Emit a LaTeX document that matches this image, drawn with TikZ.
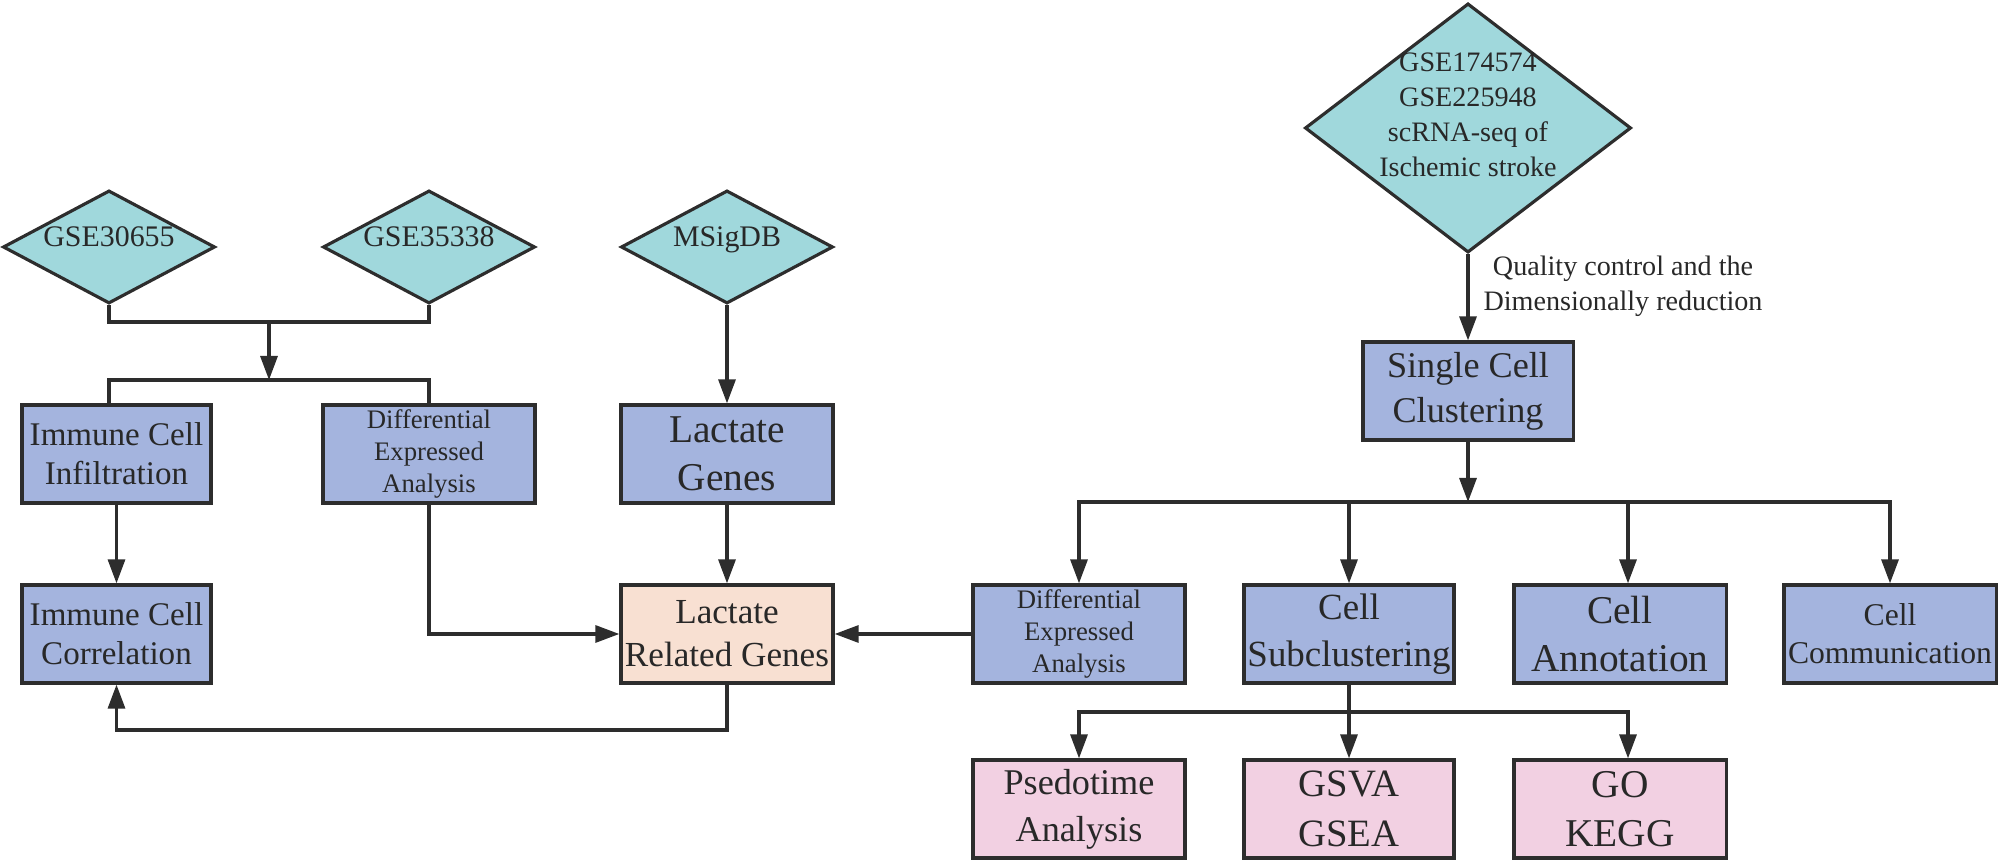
\documentclass[tikz,border=0pt]{standalone}
\usepackage{fontspec}
\setmainfont{Liberation Serif}
\usetikzlibrary{shapes.geometric,arrows.meta}
\definecolor{diafill}{RGB}{160,216,220}
\definecolor{bluefill}{RGB}{164,180,222}
\definecolor{peachfill}{RGB}{248,224,210}
\definecolor{pinkfill}{RGB}{242,208,226}
\definecolor{edgecol}{RGB}{45,45,45}
\definecolor{txtcol}{RGB}{40,40,40}
\newcommand\fs[2]{\fontsize{#1}{#2}\selectfont}
\newcommand\zsz[2]{\makebox[0pt]{\smash{#1\begin{tabular}{@{}c@{}}#2\end{tabular}}}}
\tikzset{
  dia/.style={shape=diamond, draw=edgecol, fill=diafill, line width=0.9pt, inner sep=0pt,
              text=txtcol, minimum width=2.12cm, minimum height=1.13cm},
  bx/.style={shape=rectangle, draw=edgecol, fill=bluefill, line width=0.9pt, inner sep=0pt,
             align=center, text=txtcol, minimum width=2.12cm, minimum height=0.98cm},
  bxpink/.style={bx, fill=pinkfill},
  bxpeach/.style={bx, fill=peachfill},
  conn/.style={draw=edgecol, line width=0.9pt},
  arr/.style={conn, -{Triangle[length=0.24cm,width=0.17cm]}},
  lbl/.style={align=center, text=txtcol, inner sep=0pt}
}
\begin{document}
\begin{tikzpicture}[x=0.01cm, y=-0.01cm]
\useasboundingbox (0,0) rectangle (2000,862);

% diamonds
\node[dia] (d1) at (109,247) {\zsz{\fs{8.5}{10}}{GSE30655}};
\node[dia] (d2) at (429,247) {\zsz{\fs{8.5}{10}}{GSE35338}};
\node[dia] (d3) at (727,247) {\zsz{\fs{8.5}{10}}{MSigDB}};
\node[dia, minimum width=3.26cm, minimum height=2.49cm] (d4) at (1468,128)
  {\raisebox{0.08cm}{\zsz{\fs{8}{10}}{GSE174574\\GSE225948\\scRNA-seq of\\Ischemic stroke}}};

% row 1
\node[bx, minimum width=1.89cm, font=\fs{9.4}{11.1}] (b1) at (116.5,454) {Immune Cell\\Infiltration};
\node[bx, font=\fs{7.6}{9.1}] (diff1) at (429,454) {Differential\\Expressed\\Analysis};
\node[bx, font=\fs{11.2}{13.7}] (lac) at (727,454) {Lactate\\Genes};
\node[bx, minimum width=2.10cm, font=\fs{10.3}{12.8}] (scc) at (1468,391) {Single Cell\\Clustering};

% row 2
\node[bx, minimum width=1.89cm, font=\fs{9.4}{11.1}] (b2) at (116.5,634) {Immune Cell\\Correlation};
\node[bxpeach, font=\fs{10}{12.3}] (lrg) at (727,634) {Lactate\\Related Genes};
\node[bx, font=\fs{7.6}{9.1}] (diff2) at (1079,634) {Differential\\Expressed\\Analysis};
\node[bx, minimum width=2.10cm, font=\fs{10.5}{13.3}] (sub) at (1349,634) {Cell\\Subclustering};
\node[bx, font=\fs{11.2}{13.7}] (ann) at (1620,634) {Cell\\Annotation};
\node[bx, font=\fs{9}{10.9}] (com) at (1890,634) {Cell\\Communication};

% row 3
\node[bxpink, font=\fs{10.3}{13.3}] (psd) at (1079,809) {Psedotime\\Analysis};
\node[bxpink, minimum width=2.10cm, font=\fs{11}{14}] (gsva) at (1349,809) {GSVA\\GSEA};
\node[bxpink, font=\fs{11.2}{14}] (go) at (1620,809) {GO\\KEGG};

% label
\node[lbl, font=\fs{8}{10}] (qc) at (1623,286) {Quality control and the\\Dimensionally reduction};

% junctions
\coordinate (jtop) at (269,322);
\coordinate (jbot) at (269,380);
\coordinate (hub) at (1468,502);
\coordinate (hub2) at (1349,712);
\coordinate (lb) at (116.5,730);

% left connectors
\draw[conn] (d1.south) |- (jtop);
\draw[conn] (d2.south) |- (jtop);
\draw[arr] (jtop) -- (jbot);
\draw[conn] (jbot) -| (b1.north -| d1.south);
\draw[conn] (jbot) -| (diff1.north);
\draw[arr] (d3.south) -- (lac.north);
\draw[arr] (lac.south) -- (lrg.north);
\draw[arr] (b1.south) -- (b2.north);
\draw[arr] (diff1.south) |- (lrg.west);
\draw[arr] (diff2.west) -- (lrg.east);
\draw[arr] (lrg.south) |- (lb) -- (b2.south);

% right connectors
\draw[arr] (d4.south) -- (scc.north);
\draw[arr] (scc.south) -- (hub);
\draw[arr] (hub) -| (diff2.north);
\draw[arr] (hub) -| (sub.north);
\draw[arr] (hub) -| ([xshift=0.08cm]ann.north);
\draw[arr] (hub) -| (com.north);
\draw[conn] (sub.south) -- (hub2);
\draw[arr] (hub2) -| (psd.north);
\draw[arr] (hub2) -- (gsva.north);
\draw[arr] (hub2) -| ([xshift=0.08cm]go.north);
\end{tikzpicture}
\end{document}
